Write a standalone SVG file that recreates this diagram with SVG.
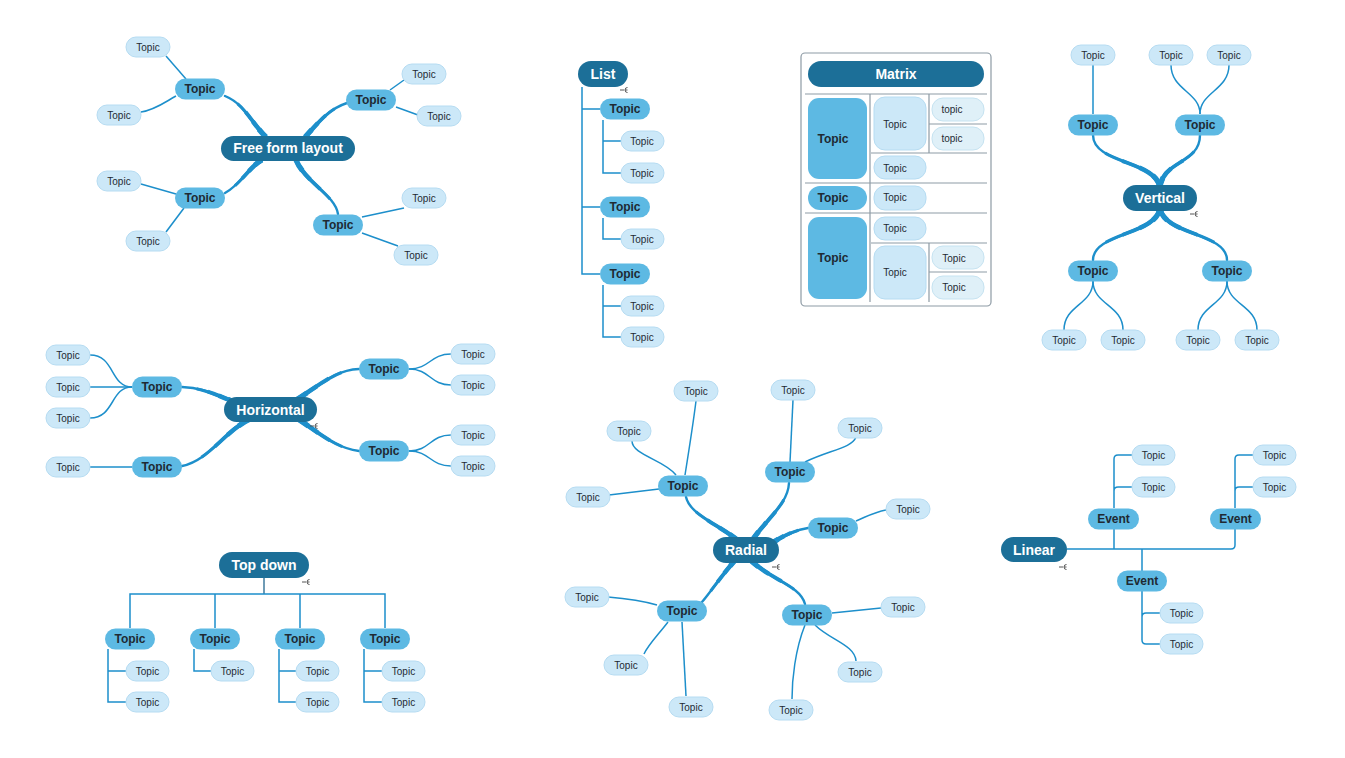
<svg xmlns="http://www.w3.org/2000/svg" xmlns:xlink="http://www.w3.org/1999/xlink" width="1345" height="758" viewBox="0 0 1345 758">
<defs>
<style>
.c{fill:#1c6f98}
.m{fill:#5db9e3}
.s{fill:#cce8f8;stroke:#b6dcf2;stroke-width:1}
.s2{fill:#dff0f8;stroke:#c6e3f1;stroke-width:1}
.tc{font-family:"Liberation Sans",Arial,sans-serif;font-size:14px;font-weight:bold;fill:#ffffff;text-anchor:middle}
.tm{font-family:"Liberation Sans",Arial,sans-serif;font-size:12px;font-weight:bold;fill:#1f2a33;text-anchor:middle}
.ts{font-family:"Liberation Sans",Arial,sans-serif;font-size:10px;fill:#1f2a33;text-anchor:middle}
.k1{fill:none;stroke:#1d8fcb;stroke-width:2.4;stroke-linecap:round}
.k2{fill:none;stroke:#1d8fcb;stroke-width:3.1;stroke-dasharray:75 25}
.k3{fill:none;stroke:#1d8fcb;stroke-width:3.8;stroke-dasharray:55 45}
.k4{fill:none;stroke:#1d8fcb;stroke-width:4.5;stroke-dasharray:35 65}
.k5{fill:none;stroke:#1d8fcb;stroke-width:5.2;stroke-dasharray:18 82}
.thin{fill:none;stroke:#1d8fcb;stroke-width:1.5}
.stem{fill:none;stroke:#3f7a9c;stroke-width:1.5}
.ic{fill:none;stroke:#555;stroke-width:1}
.grid{fill:none;stroke:#8e9ba5;stroke-width:1.2}
</style>
<path id="b1" pathLength="100" d="M266,137 C252,124 245,104 225,96"/>
<path id="b2" pathLength="100" d="M305,137 C316,126 326,110 347,103"/>
<path id="b3" pathLength="100" d="M262,160 C250,166 240,185 225,193"/>
<path id="b4" pathLength="100" d="M296,160 C305,182 335,195 338,214"/>
<path id="b5" pathLength="100" d="M1160,190 C1160,160 1093,165 1093,135"/>
<path id="b6" pathLength="100" d="M1160,190 C1160,160 1200,165 1200,135"/>
<path id="b7" pathLength="100" d="M1160,206 C1160,235 1093,232 1093,260"/>
<path id="b8" pathLength="100" d="M1160,206 C1160,235 1227,232 1227,260"/>
<path id="b9" pathLength="100" d="M238,403 C215,395 205,388 182,387"/>
<path id="b10" pathLength="100" d="M252,418 C225,430 210,460 182,466"/>
<path id="b11" pathLength="100" d="M296,400 C320,385 335,370 359,369"/>
<path id="b12" pathLength="100" d="M298,419 C318,432 335,448 359,451"/>
<path id="b13" pathLength="100" d="M740,542 C720,525 690,515 686,497"/>
<path id="b14" pathLength="100" d="M751,542 C765,520 788,505 789,483"/>
<path id="b15" pathLength="100" d="M772,543 C785,535 795,530 808,528"/>
<path id="b16" pathLength="100" d="M737,558 C722,575 712,590 702,602"/>
<path id="b17" pathLength="100" d="M748,558 C770,580 800,585 805,604"/>
</defs>
<rect width="1345" height="758" fill="#ffffff"/>

<g id="connectors">
<g class="k1">
<use xlink:href="#b1"/><use xlink:href="#b2"/><use xlink:href="#b3"/><use xlink:href="#b4"/>
<use xlink:href="#b5"/><use xlink:href="#b6"/><use xlink:href="#b7"/><use xlink:href="#b8"/>
<use xlink:href="#b9"/><use xlink:href="#b10"/><use xlink:href="#b11"/><use xlink:href="#b12"/>
<use xlink:href="#b13"/><use xlink:href="#b14"/><use xlink:href="#b15"/><use xlink:href="#b16"/><use xlink:href="#b17"/>
</g>
<g class="k2">
<use xlink:href="#b1"/><use xlink:href="#b2"/><use xlink:href="#b3"/><use xlink:href="#b4"/>
<use xlink:href="#b5"/><use xlink:href="#b6"/><use xlink:href="#b7"/><use xlink:href="#b8"/>
<use xlink:href="#b9"/><use xlink:href="#b10"/><use xlink:href="#b11"/><use xlink:href="#b12"/>
<use xlink:href="#b13"/><use xlink:href="#b14"/><use xlink:href="#b15"/><use xlink:href="#b16"/><use xlink:href="#b17"/>
</g>
<g class="k3">
<use xlink:href="#b1"/><use xlink:href="#b2"/><use xlink:href="#b3"/><use xlink:href="#b4"/>
<use xlink:href="#b5"/><use xlink:href="#b6"/><use xlink:href="#b7"/><use xlink:href="#b8"/>
<use xlink:href="#b9"/><use xlink:href="#b10"/><use xlink:href="#b11"/><use xlink:href="#b12"/>
<use xlink:href="#b13"/><use xlink:href="#b14"/><use xlink:href="#b15"/><use xlink:href="#b16"/><use xlink:href="#b17"/>
</g>
<g class="k4">
<use xlink:href="#b1"/><use xlink:href="#b2"/><use xlink:href="#b3"/><use xlink:href="#b4"/>
<use xlink:href="#b5"/><use xlink:href="#b6"/><use xlink:href="#b7"/><use xlink:href="#b8"/>
<use xlink:href="#b9"/><use xlink:href="#b10"/><use xlink:href="#b11"/><use xlink:href="#b12"/>
<use xlink:href="#b13"/><use xlink:href="#b14"/><use xlink:href="#b15"/><use xlink:href="#b16"/><use xlink:href="#b17"/>
</g>
<g class="k5">
<use xlink:href="#b1"/><use xlink:href="#b2"/><use xlink:href="#b3"/><use xlink:href="#b4"/>
<use xlink:href="#b5"/><use xlink:href="#b6"/><use xlink:href="#b7"/><use xlink:href="#b8"/>
<use xlink:href="#b9"/><use xlink:href="#b10"/><use xlink:href="#b11"/><use xlink:href="#b12"/>
<use xlink:href="#b13"/><use xlink:href="#b14"/><use xlink:href="#b15"/><use xlink:href="#b16"/><use xlink:href="#b17"/>
</g>
<path class="thin" d="M166,56 L186,79"/>
<path class="thin" d="M141,112 C155,110 165,102 176,96"/>
<path class="thin" d="M390,90 L404,80"/>
<path class="thin" d="M396,107 L418,115"/>
<path class="thin" d="M141,184 L176,194"/>
<path class="thin" d="M184,208 L166,232"/>
<path class="thin" d="M362,217 L404,208"/>
<path class="thin" d="M362,233 L398,246"/>
<path class="thin" d="M582,87 V274 H600 M582,109 H600 M582,207 H600"/>
<path class="thin" d="M603,120 V173 H621 M603,141 H621 M603,218 V239 H621 M603,285 V337 H621 M603,306 H621"/>
<path class="thin" d="M1093,65 V114"/>
<path class="thin" d="M1171,65 C1171,90 1200,92 1200,114"/>
<path class="thin" d="M1229,65 C1229,90 1200,92 1200,114"/>
<path class="thin" d="M1093,281 C1093,305 1064,305 1064,330"/>
<path class="thin" d="M1093,281 C1093,305 1123,305 1123,330"/>
<path class="thin" d="M1227,281 C1227,305 1198,305 1198,330"/>
<path class="thin" d="M1227,281 C1227,305 1257,305 1257,330"/>
<path class="thin" d="M90,355 C115,355 110,387 132,387"/>
<path class="thin" d="M90,387 H132"/>
<path class="thin" d="M90,418 C115,418 110,387 132,387"/>
<path class="thin" d="M90,467 H132"/>
<path class="thin" d="M409,369 C430,369 430,354 451,354"/>
<path class="thin" d="M409,369 C430,369 430,385 451,385"/>
<path class="thin" d="M409,451 C430,451 430,435 451,435"/>
<path class="thin" d="M409,451 C430,451 430,466 451,466"/>
<path class="thin" d="M685,475 C689,450 693,425 696,401"/>
<path class="thin" d="M676,475 C665,460 632,455 632,441"/>
<path class="thin" d="M659,489 L609,495"/>
<path class="thin" d="M790,462 L793,400"/>
<path class="thin" d="M805,462 C830,450 852,448 856,437"/>
<path class="thin" d="M856,521 C870,515 875,512 886,510"/>
<path class="thin" d="M657,605 C640,600 620,598 608,597"/>
<path class="thin" d="M668,622 C658,635 648,645 644,654"/>
<path class="thin" d="M682,622 L686,696"/>
<path class="thin" d="M832,613 L881,608"/>
<path class="thin" d="M815,625 C830,640 855,645 856,661"/>
<path class="thin" d="M805,625 C795,650 792,680 792,699"/>
<path class="stem" d="M264,578 V594"/>
<path class="thin" d="M130,628 V594 H385 V628 M215,594 V628 M300,594 V628"/>
<path class="thin" d="M108,649 V702 H126 M108,671 H126"/>
<path class="thin" d="M194,649 V671 H211"/>
<path class="thin" d="M279,649 V702 H296 M279,671 H296"/>
<path class="thin" d="M364,649 V702 H382 M364,671 H382"/>
<path class="thin" d="M1067,549 H1231 Q1235,549 1235,545 V529"/>
<path class="thin" d="M1114,529 V549 M1142,549 V571"/>
<path class="thin" d="M1114,508 V459 Q1114,455 1118,455 H1132 M1114,491 Q1114,487 1118,487 H1132"/>
<path class="thin" d="M1235,508 V459 Q1235,455 1239,455 H1253 M1235,491 Q1235,487 1239,487 H1253"/>
<path class="thin" d="M1142,591 V640 Q1142,644 1146,644 H1160 M1142,617 Q1142,613 1146,613 H1160"/>
</g>

<g id="icons">
<path class="ic" d="M620,90 H624 M627.5,87.5 A2.5,2.5 0 0 0 627.5,92.5 M625,90 H627.5"/>
<path class="ic" d="M1190,214 H1194 M1197.5,211.5 A2.5,2.5 0 0 0 1197.5,216.5 M1195,214 H1197.5"/>
<path class="ic" d="M310,426 H314 M317.5,423.5 A2.5,2.5 0 0 0 317.5,428.5 M315,426 H317.5"/>
<path class="ic" d="M772,567 H776 M779.5,564.5 A2.5,2.5 0 0 0 779.5,569.5 M777,567 H779.5"/>
<path class="ic" d="M302,582 H306 M309.5,579.5 A2.5,2.5 0 0 0 309.5,584.5 M307,582 H309.5"/>
<path class="ic" d="M1059,567 H1063 M1066.5,564.5 A2.5,2.5 0 0 0 1066.5,569.5 M1064,567 H1066.5"/>
</g>

<g id="ff-center"><rect class="c" x="221" y="136" width="134" height="25" rx="12.5"/><text class="tc" x="288" y="153">Free form layout</text></g>
<g id="ff-t1"><rect class="m" x="175" y="78.5" width="50" height="21" rx="10.5"/><text class="tm" x="200" y="93">Topic</text></g>
<g id="ff-t2"><rect class="m" x="346" y="89.5" width="50" height="21" rx="10.5"/><text class="tm" x="371" y="104">Topic</text></g>
<g id="ff-t3"><rect class="m" x="175" y="187.5" width="50" height="21" rx="10.5"/><text class="tm" x="200" y="202">Topic</text></g>
<g id="ff-t4"><rect class="m" x="313" y="214.5" width="50" height="21" rx="10.5"/><text class="tm" x="338" y="229">Topic</text></g>
<g id="ff-s1"><rect class="s" x="126" y="37" width="44" height="20" rx="10"/><text class="ts" x="148" y="50.5">Topic</text></g>
<g id="ff-s2"><rect class="s" x="97" y="105" width="44" height="20" rx="10"/><text class="ts" x="119" y="118.5">Topic</text></g>
<g id="ff-s3"><rect class="s" x="402" y="64" width="44" height="20" rx="10"/><text class="ts" x="424" y="77.5">Topic</text></g>
<g id="ff-s4"><rect class="s" x="417" y="106" width="44" height="20" rx="10"/><text class="ts" x="439" y="119.5">Topic</text></g>
<g id="ff-s5"><rect class="s" x="97" y="171" width="44" height="20" rx="10"/><text class="ts" x="119" y="184.5">Topic</text></g>
<g id="ff-s6"><rect class="s" x="126" y="231" width="44" height="20" rx="10"/><text class="ts" x="148" y="244.5">Topic</text></g>
<g id="ff-s7"><rect class="s" x="402" y="188" width="44" height="20" rx="10"/><text class="ts" x="424" y="201.5">Topic</text></g>
<g id="ff-s8"><rect class="s" x="394" y="245" width="44" height="20" rx="10"/><text class="ts" x="416" y="258.5">Topic</text></g>

<g id="list-center"><rect class="c" x="578" y="61" width="50" height="26" rx="13"/><text class="tc" x="603" y="79">List</text></g>
<g id="list-t1"><rect class="m" x="600" y="98.5" width="50" height="21" rx="10.5"/><text class="tm" x="625" y="113">Topic</text></g>
<g id="list-t2"><rect class="m" x="600" y="196.5" width="50" height="21" rx="10.5"/><text class="tm" x="625" y="211">Topic</text></g>
<g id="list-t3"><rect class="m" x="600" y="263.5" width="50" height="21" rx="10.5"/><text class="tm" x="625" y="278">Topic</text></g>
<g id="list-s1"><rect class="s" x="621" y="131" width="43" height="20" rx="10"/><text class="ts" x="642" y="144.5">Topic</text></g>
<g id="list-s2"><rect class="s" x="621" y="163" width="43" height="20" rx="10"/><text class="ts" x="642" y="176.5">Topic</text></g>
<g id="list-s3"><rect class="s" x="621" y="229" width="43" height="20" rx="10"/><text class="ts" x="642" y="242.5">Topic</text></g>
<g id="list-s4"><rect class="s" x="621" y="296" width="43" height="20" rx="10"/><text class="ts" x="642" y="309.5">Topic</text></g>
<g id="list-s5"><rect class="s" x="621" y="327" width="43" height="20" rx="10"/><text class="ts" x="642" y="340.5">Topic</text></g>

<g id="matrix">
<rect x="801" y="53" width="190" height="253" rx="4" fill="#ffffff" stroke="#8e9ba5" stroke-width="1.2"/>
<path class="grid" d="M805,94 H987 M805,183 H987 M805,213 H987 M871,153 H987 M929,124 H987 M871,243 H987 M929,272 H987 M870,94 V302 M929,94 V153 M929,243 V302"/>
</g>
<g id="mx-title"><rect class="c" x="808" y="61" width="176" height="26" rx="13"/><text class="tc" x="896" y="79">Matrix</text></g>
<g id="mx-r1"><rect class="m" x="808" y="98" width="59" height="81" rx="11"/><text class="tm" x="833" y="143">Topic</text></g>
<g id="mx-r1a"><rect class="s" x="874" y="97" width="52" height="53" rx="11"/><text class="ts" x="895" y="128">Topic</text></g>
<g id="mx-r1a1"><rect class="s2" x="932" y="98" width="52" height="23" rx="11"/><text class="ts" x="952" y="113">topic</text></g>
<g id="mx-r1a2"><rect class="s2" x="932" y="127" width="52" height="23" rx="11"/><text class="ts" x="952" y="142">topic</text></g>
<g id="mx-r1b"><rect class="s" x="874" y="156" width="52" height="23" rx="11"/><text class="ts" x="895" y="172">Topic</text></g>
<g id="mx-r2"><rect class="m" x="808" y="186" width="59" height="24" rx="12"/><text class="tm" x="833" y="202">Topic</text></g>
<g id="mx-r2a"><rect class="s" x="874" y="186" width="52" height="24" rx="11"/><text class="ts" x="895" y="201">Topic</text></g>
<g id="mx-r3"><rect class="m" x="808" y="217" width="59" height="82" rx="11"/><text class="tm" x="833" y="262">Topic</text></g>
<g id="mx-r3a"><rect class="s" x="874" y="217" width="52" height="23" rx="11"/><text class="ts" x="895" y="232">Topic</text></g>
<g id="mx-r3b"><rect class="s" x="874" y="246" width="52" height="53" rx="11"/><text class="ts" x="895" y="276">Topic</text></g>
<g id="mx-r3b1"><rect class="s2" x="932" y="246" width="52" height="23" rx="11"/><text class="ts" x="954" y="262">Topic</text></g>
<g id="mx-r3b2"><rect class="s2" x="932" y="276" width="52" height="23" rx="11"/><text class="ts" x="954" y="291">Topic</text></g>

<g id="v-center"><rect class="c" x="1123" y="185" width="74" height="26" rx="13"/><text class="tc" x="1160" y="203">Vertical</text></g>
<g id="v-t1"><rect class="m" x="1068" y="114.5" width="50" height="21" rx="10.5"/><text class="tm" x="1093" y="129">Topic</text></g>
<g id="v-t2"><rect class="m" x="1175" y="114.5" width="50" height="21" rx="10.5"/><text class="tm" x="1200" y="129">Topic</text></g>
<g id="v-t3"><rect class="m" x="1068" y="260.5" width="50" height="21" rx="10.5"/><text class="tm" x="1093" y="275">Topic</text></g>
<g id="v-t4"><rect class="m" x="1202" y="260.5" width="50" height="21" rx="10.5"/><text class="tm" x="1227" y="275">Topic</text></g>
<g id="v-s1"><rect class="s" x="1071" y="45" width="44" height="20" rx="10"/><text class="ts" x="1093" y="58.5">Topic</text></g>
<g id="v-s2"><rect class="s" x="1149" y="45" width="44" height="20" rx="10"/><text class="ts" x="1171" y="58.5">Topic</text></g>
<g id="v-s3"><rect class="s" x="1207" y="45" width="44" height="20" rx="10"/><text class="ts" x="1229" y="58.5">Topic</text></g>
<g id="v-s4"><rect class="s" x="1042" y="330" width="44" height="20" rx="10"/><text class="ts" x="1064" y="343.5">Topic</text></g>
<g id="v-s5"><rect class="s" x="1101" y="330" width="44" height="20" rx="10"/><text class="ts" x="1123" y="343.5">Topic</text></g>
<g id="v-s6"><rect class="s" x="1176" y="330" width="44" height="20" rx="10"/><text class="ts" x="1198" y="343.5">Topic</text></g>
<g id="v-s7"><rect class="s" x="1235" y="330" width="44" height="20" rx="10"/><text class="ts" x="1257" y="343.5">Topic</text></g>

<g id="h-center"><rect class="c" x="224" y="397" width="93" height="25" rx="12.5"/><text class="tc" x="270.5" y="414.5">Horizontal</text></g>
<g id="h-t1"><rect class="m" x="132" y="376.5" width="50" height="21" rx="10.5"/><text class="tm" x="157" y="391">Topic</text></g>
<g id="h-t2"><rect class="m" x="132" y="456.5" width="50" height="21" rx="10.5"/><text class="tm" x="157" y="471">Topic</text></g>
<g id="h-t3"><rect class="m" x="359" y="358.5" width="50" height="21" rx="10.5"/><text class="tm" x="384" y="373">Topic</text></g>
<g id="h-t4"><rect class="m" x="359" y="440.5" width="50" height="21" rx="10.5"/><text class="tm" x="384" y="455">Topic</text></g>
<g id="h-s1"><rect class="s" x="46" y="345" width="44" height="20" rx="10"/><text class="ts" x="68" y="358.5">Topic</text></g>
<g id="h-s2"><rect class="s" x="46" y="377" width="44" height="20" rx="10"/><text class="ts" x="68" y="390.5">Topic</text></g>
<g id="h-s3"><rect class="s" x="46" y="408" width="44" height="20" rx="10"/><text class="ts" x="68" y="421.5">Topic</text></g>
<g id="h-s4"><rect class="s" x="46" y="457" width="44" height="20" rx="10"/><text class="ts" x="68" y="470.5">Topic</text></g>
<g id="h-s5"><rect class="s" x="451" y="344" width="44" height="20" rx="10"/><text class="ts" x="473" y="357.5">Topic</text></g>
<g id="h-s6"><rect class="s" x="451" y="375" width="44" height="20" rx="10"/><text class="ts" x="473" y="388.5">Topic</text></g>
<g id="h-s7"><rect class="s" x="451" y="425" width="44" height="20" rx="10"/><text class="ts" x="473" y="438.5">Topic</text></g>
<g id="h-s8"><rect class="s" x="451" y="456" width="44" height="20" rx="10"/><text class="ts" x="473" y="469.5">Topic</text></g>

<g id="r-center"><rect class="c" x="713" y="537" width="66" height="26" rx="13"/><text class="tc" x="746" y="555">Radial</text></g>
<g id="r-t1"><rect class="m" x="658" y="475.5" width="50" height="21" rx="10.5"/><text class="tm" x="683" y="490">Topic</text></g>
<g id="r-t2"><rect class="m" x="765" y="461.5" width="50" height="21" rx="10.5"/><text class="tm" x="790" y="476">Topic</text></g>
<g id="r-t3"><rect class="m" x="808" y="517.5" width="50" height="21" rx="10.5"/><text class="tm" x="833" y="532">Topic</text></g>
<g id="r-t4"><rect class="m" x="657" y="600.5" width="50" height="21" rx="10.5"/><text class="tm" x="682" y="615">Topic</text></g>
<g id="r-t5"><rect class="m" x="782" y="604.5" width="50" height="21" rx="10.5"/><text class="tm" x="807" y="619">Topic</text></g>
<g id="r-s1"><rect class="s" x="674" y="381" width="44" height="20" rx="10"/><text class="ts" x="696" y="394.5">Topic</text></g>
<g id="r-s2"><rect class="s" x="607" y="421" width="44" height="20" rx="10"/><text class="ts" x="629" y="434.5">Topic</text></g>
<g id="r-s3"><rect class="s" x="566" y="487" width="44" height="20" rx="10"/><text class="ts" x="588" y="500.5">Topic</text></g>
<g id="r-s4"><rect class="s" x="771" y="380" width="44" height="20" rx="10"/><text class="ts" x="793" y="393.5">Topic</text></g>
<g id="r-s5"><rect class="s" x="838" y="418" width="44" height="20" rx="10"/><text class="ts" x="860" y="431.5">Topic</text></g>
<g id="r-s6"><rect class="s" x="886" y="499" width="44" height="20" rx="10"/><text class="ts" x="908" y="512.5">Topic</text></g>
<g id="r-s7"><rect class="s" x="565" y="587" width="44" height="20" rx="10"/><text class="ts" x="587" y="600.5">Topic</text></g>
<g id="r-s8"><rect class="s" x="604" y="655" width="44" height="20" rx="10"/><text class="ts" x="626" y="668.5">Topic</text></g>
<g id="r-s9"><rect class="s" x="669" y="697" width="44" height="20" rx="10"/><text class="ts" x="691" y="710.5">Topic</text></g>
<g id="r-s10"><rect class="s" x="881" y="597" width="44" height="20" rx="10"/><text class="ts" x="903" y="610.5">Topic</text></g>
<g id="r-s11"><rect class="s" x="838" y="662" width="44" height="20" rx="10"/><text class="ts" x="860" y="675.5">Topic</text></g>
<g id="r-s12"><rect class="s" x="769" y="700" width="44" height="20" rx="10"/><text class="ts" x="791" y="713.5">Topic</text></g>

<g id="td-center"><rect class="c" x="219" y="552" width="90" height="26" rx="13"/><text class="tc" x="264" y="570">Top down</text></g>
<g id="td-t1"><rect class="m" x="105" y="628.5" width="50" height="21" rx="10.5"/><text class="tm" x="130" y="643">Topic</text></g>
<g id="td-t2"><rect class="m" x="190" y="628.5" width="50" height="21" rx="10.5"/><text class="tm" x="215" y="643">Topic</text></g>
<g id="td-t3"><rect class="m" x="275" y="628.5" width="50" height="21" rx="10.5"/><text class="tm" x="300" y="643">Topic</text></g>
<g id="td-t4"><rect class="m" x="360" y="628.5" width="50" height="21" rx="10.5"/><text class="tm" x="385" y="643">Topic</text></g>
<g id="td-s1"><rect class="s" x="126" y="661" width="43" height="20" rx="10"/><text class="ts" x="147.5" y="674.5">Topic</text></g>
<g id="td-s2"><rect class="s" x="126" y="692" width="43" height="20" rx="10"/><text class="ts" x="147.5" y="705.5">Topic</text></g>
<g id="td-s3"><rect class="s" x="211" y="661" width="43" height="20" rx="10"/><text class="ts" x="232.5" y="674.5">Topic</text></g>
<g id="td-s4"><rect class="s" x="296" y="661" width="43" height="20" rx="10"/><text class="ts" x="317.5" y="674.5">Topic</text></g>
<g id="td-s5"><rect class="s" x="296" y="692" width="43" height="20" rx="10"/><text class="ts" x="317.5" y="705.5">Topic</text></g>
<g id="td-s6"><rect class="s" x="382" y="661" width="43" height="20" rx="10"/><text class="ts" x="403.5" y="674.5">Topic</text></g>
<g id="td-s7"><rect class="s" x="382" y="692" width="43" height="20" rx="10"/><text class="ts" x="403.5" y="705.5">Topic</text></g>

<g id="l-center"><rect class="c" x="1001" y="537" width="66" height="25" rx="12.5"/><text class="tc" x="1034" y="554.5">Linear</text></g>
<g id="l-e1"><rect class="m" x="1088" y="508.5" width="51" height="21" rx="10.5"/><text class="tm" x="1113.5" y="523">Event</text></g>
<g id="l-e2"><rect class="m" x="1210" y="508.5" width="51" height="21" rx="10.5"/><text class="tm" x="1235.5" y="523">Event</text></g>
<g id="l-e3"><rect class="m" x="1117" y="570.5" width="50" height="21" rx="10.5"/><text class="tm" x="1142" y="585">Event</text></g>
<g id="l-s1"><rect class="s" x="1132" y="445" width="43" height="20" rx="10"/><text class="ts" x="1153.5" y="458.5">Topic</text></g>
<g id="l-s2"><rect class="s" x="1132" y="477" width="43" height="20" rx="10"/><text class="ts" x="1153.5" y="490.5">Topic</text></g>
<g id="l-s3"><rect class="s" x="1253" y="445" width="43" height="20" rx="10"/><text class="ts" x="1274.5" y="458.5">Topic</text></g>
<g id="l-s4"><rect class="s" x="1253" y="477" width="43" height="20" rx="10"/><text class="ts" x="1274.5" y="490.5">Topic</text></g>
<g id="l-s5"><rect class="s" x="1160" y="603" width="43" height="20" rx="10"/><text class="ts" x="1181.5" y="616.5">Topic</text></g>
<g id="l-s6"><rect class="s" x="1160" y="634" width="43" height="20" rx="10"/><text class="ts" x="1181.5" y="647.5">Topic</text></g>
</svg>
